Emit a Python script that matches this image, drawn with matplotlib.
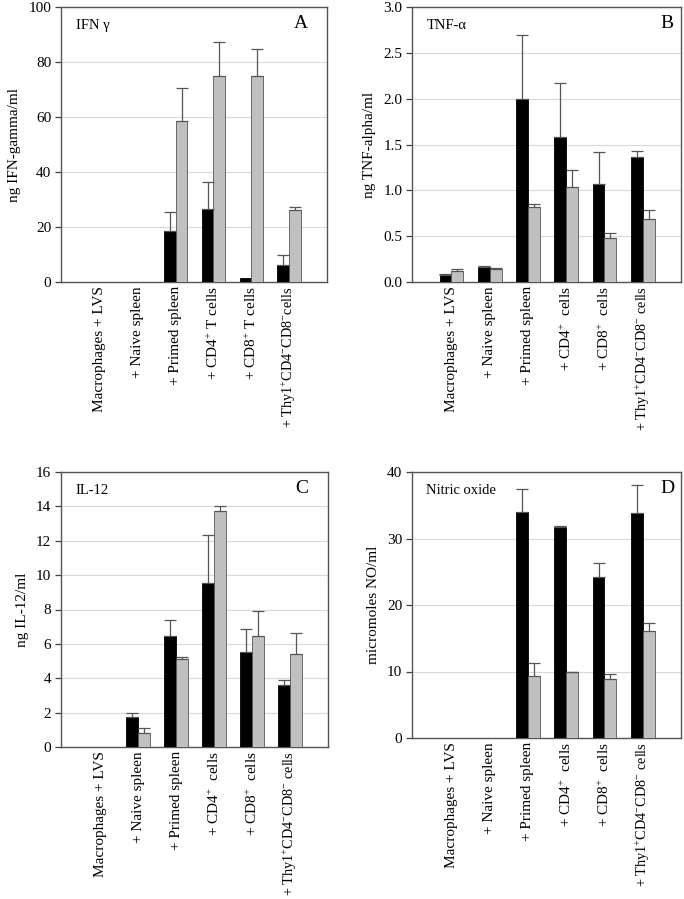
import numpy as np
import matplotlib
matplotlib.use("Agg")
import matplotlib.pyplot as plt

plt.rcParams['font.family'] = ['Liberation Serif', 'DejaVu Serif']
plt.rcParams['mathtext.fontset'] = 'custom'
plt.rcParams['mathtext.rm'] = 'Liberation Serif'
plt.rcParams['mathtext.it'] = 'Liberation Serif:italic'
plt.rcParams['mathtext.bf'] = 'Liberation Serif:bold'

# categories (A uses "T cells", the others just "cells")
labels_a = ["Macrophages + LVS", "+ Naive spleen", "+ Primed spleen",
            "+ CD4$^{+}$ T cells", "+ CD8$^{+}$ T cells",
            "+ Thy1$^{+}$CD4$^{-}$CD8$^{-}$cells"]
labels_b = ["Macrophages + LVS", "+ Naive spleen", "+ Primed spleen",
            "+ CD4$^{+}$  cells", "+ CD8$^{+}$  cells",
            "+ Thy1$^{+}$CD4$^{-}$CD8$^{-}$ cells"]

# A: IFN gamma
ifn_black = [0, 0, 18.5, 26.6, 1.6, 6.3]
ifn_black_err = [0, 0, 7.0, 9.6, 0, 3.7]
ifn_grey = [0, 0, 58.6, 75.0, 75.0, 26.2]
ifn_grey_err = [0, 0, 11.8, 12.1, 9.8, 1.2]

# B: TNF alpha
tnf_black = [0.08, 0.16, 2.0, 1.58, 1.07, 1.36]
tnf_black_err = [0.01, 0.01, 0.70, 0.59, 0.35, 0.065]
tnf_grey = [0.12, 0.14, 0.82, 1.04, 0.48, 0.69]
tnf_grey_err = [0.025, 0.01, 0.03, 0.18, 0.05, 0.095]

# C: IL-12
il12_black = [0, 1.75, 6.44, 9.53, 5.52, 3.6]
il12_black_err = [0, 0.25, 0.93, 2.8, 1.33, 0.29]
il12_grey = [0, 0.82, 5.12, 13.73, 6.48, 5.39]
il12_grey_err = [0, 0.31, 0.1, 0.27, 1.42, 1.22]

# D: nitric oxide
no_black = [0, 0, 33.97, 31.76, 24.17, 33.87]
no_black_err = [0, 0, 3.4, 0.1, 2.1, 4.2]
no_grey = [0, 0, 9.35, 9.9, 8.94, 16.13]
no_grey_err = [0, 0, 2.0, 0.1, 0.75, 1.16]

W, H = 684, 899
fig = plt.figure(figsize=(W / 100, H / 100), dpi=100)


def panel(rect, black, black_err, grey, grey_err, ymax, step, ylabel, title, letter,
          letter_right, xlabels, fmt):
    l, t, r, b = rect
    aw, ah = r - l, b - t
    ax = fig.add_axes([l / W, 1 - b / H, aw / W, ah / H])
    x = np.arange(len(black))
    w = 0.31
    ax.bar(x - w / 2, black, w, color='black', edgecolor='black', linewidth=0.6, zorder=3)
    ax.bar(x + w / 2, grey, w, color='#c0c0c0', edgecolor='#555555', linewidth=0.6, zorder=3)
    for xs, vals, errs in [(x - w / 2, black, black_err), (x + w / 2, grey, grey_err)]:
        vals = np.array(vals, float)
        errs = np.array(errs, float)
        m = errs > 0
        ax.errorbar(xs[m], vals[m], yerr=[np.zeros(m.sum()), errs[m]], fmt='none',
                    ecolor='#555555', elinewidth=0.9, capsize=4, capthick=0.9, zorder=4)
    ax.set_xlim(-1.03, 6.0)
    ax.set_ylim(0, ymax)
    ax.set_yticks(np.arange(0, ymax + step / 2, step))
    ax.yaxis.set_major_formatter(plt.FormatStrFormatter(fmt))
    ax.grid(axis='y', color='#d9d9d9', linewidth=0.8, zorder=0)
    ax.set_axisbelow(True)
    ax.set_xticks(x)
    ax.set_xticklabels(xlabels, rotation=90, fontsize=11)
    # the long Thy1 label has to fit above the figure's bottom edge
    ax.get_xticklabels()[-1].set_fontsize(10.3)
    ax.tick_params(axis='x', length=0, pad=3)
    ax.tick_params(axis='y', length=4, labelsize=11, pad=3, color='#404040', width=0.9)
    for s in ax.spines.values():
        s.set_color('#555555')
        s.set_linewidth(1.0)
    ax.set_ylabel(ylabel, fontsize=11, labelpad=5)
    ax.text(14.5 / aw, 1 - 22 / ah, title, transform=ax.transAxes, fontsize=10.5,
            va='baseline', ha='left')
    ax.text(1 - letter_right / aw, 1 - 21 / ah, letter, transform=ax.transAxes, fontsize=14,
            va='baseline', ha='right')
    return ax


panel((61, 7, 327, 282), ifn_black, ifn_black_err, ifn_grey, ifn_grey_err, 100, 20,
      "ng IFN-gamma/ml", "IFN γ", "A", 19, labels_a, '%d')
panel((412, 7, 681, 282), tnf_black, tnf_black_err, tnf_grey, tnf_grey_err, 3.0, 0.5,
      "ng TNF-alpha/ml", "TNF-α", "B", 7, labels_b, '%.1f')
panel((61, 472, 328, 747), il12_black, il12_black_err, il12_grey, il12_grey_err, 16, 2,
      "ng IL-12/ml", "IL-12", "C", 20, labels_b, '%d')
panel((412, 472, 681, 738), no_black, no_black_err, no_grey, no_grey_err, 40, 10,
      "micromoles NO/ml", "Nitric oxide", "D", 6, labels_b, '%d')

fig.savefig("out.png", dpi=100)
